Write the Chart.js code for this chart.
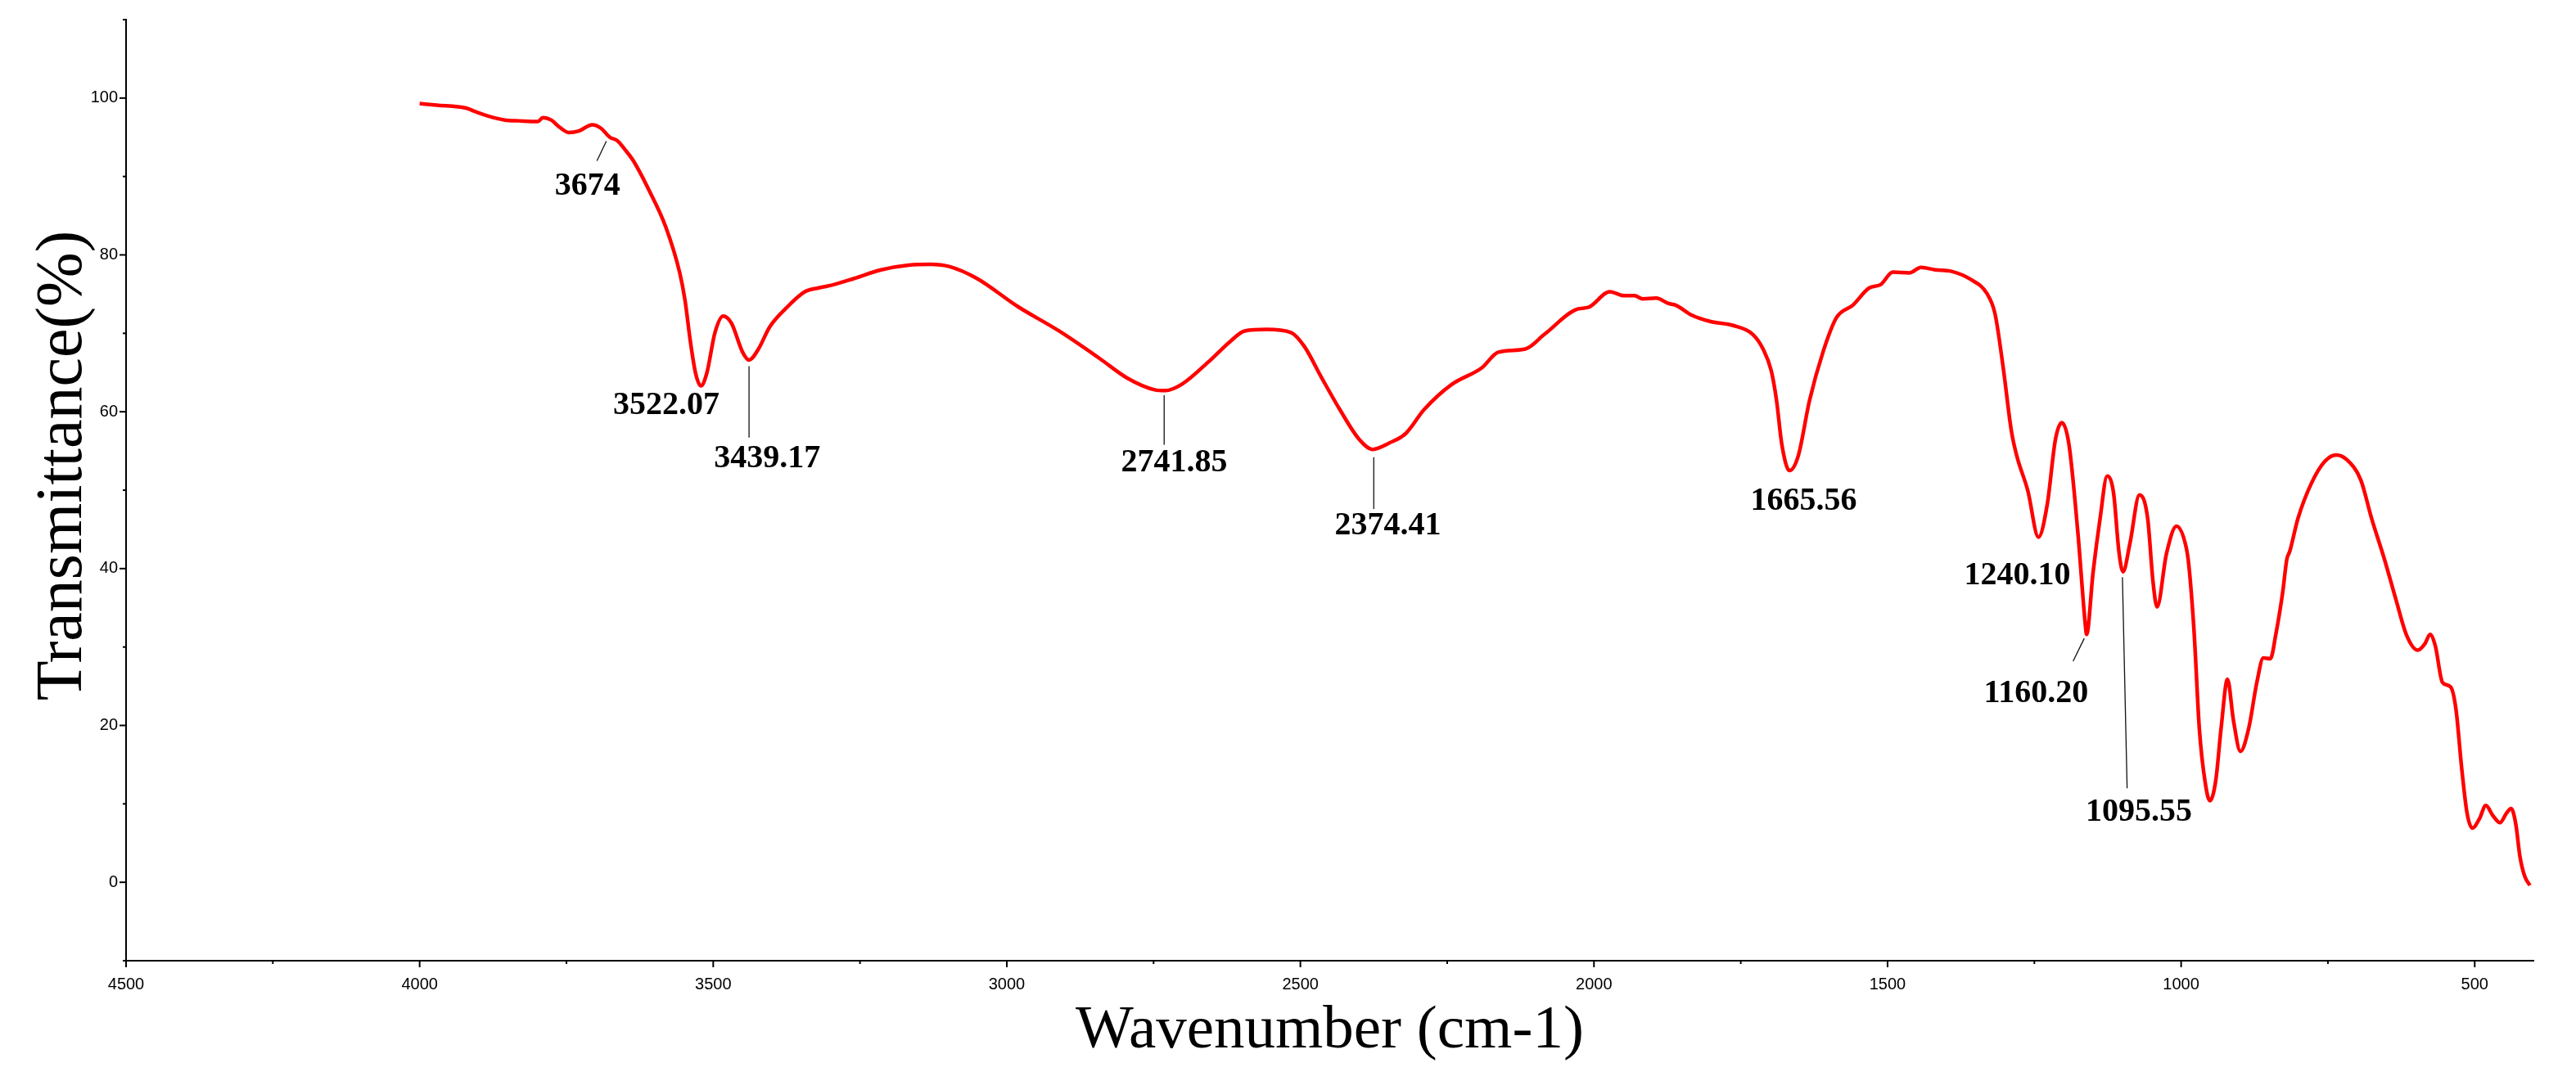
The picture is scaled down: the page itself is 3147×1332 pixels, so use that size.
<!DOCTYPE html>
<html>
<head>
<meta charset="utf-8">
<script src="https://cdn.jsdelivr.net/npm/chart.js@4.4.1/dist/chart.umd.min.js"></script>
<style>
  body { margin: 0; background: #fff; }
  canvas { display: block; }
</style>
</head>
<body>
<canvas id="myChart" width="3147" height="1332"></canvas>
<script>
// FTIR spectrum
const wavenumber = [
  4000, 3971, 3920, 3906, 3883, 3855, 3832, 3799, 3790, 3776, 3762, 3746, 3729, 3706, 3692, 3676,
  3664, 3650, 3636, 3609, 3581, 3557, 3548, 3539, 3530, 3521, 3511, 3497, 3483, 3469, 3450, 3439,
  3423, 3404, 3376, 3344, 3320, 3295, 3260, 3214, 3167, 3130, 3097, 3051, 2981, 2911, 2842, 2795,
  2748, 2730, 2702, 2656, 2619, 2595, 2558, 2516, 2493, 2465, 2433, 2400, 2377, 2349, 2321, 2289,
  2242, 2191, 2163, 2117, 2084, 2028, 2010, 1973, 1949, 1931, 1917, 1894, 1873, 1861, 1833, 1801,
  1763, 1730, 1712, 1698, 1689, 1680, 1667, 1652, 1633, 1610, 1587, 1559, 1531, 1512, 1491, 1463,
  1443, 1419, 1391, 1359, 1331, 1317, 1303, 1289, 1280, 1261, 1243, 1228, 1214, 1203, 1191, 1176,
  1163, 1161, 1150, 1138, 1126, 1115, 1106, 1099, 1087, 1071, 1057, 1048, 1041, 1025, 1008, 992,
  987, 978, 969, 959, 951, 941, 932, 921, 911, 899, 885, 871, 860, 848, 839, 827,
  820, 815, 801, 778, 755, 736, 718, 694, 676, 653, 634, 616, 597, 585, 576, 567,
  555, 541, 532, 522, 513, 504, 492, 481, 469, 457, 446, 438, 430, 423, 415, 406
];
const transmittance = [
  99.3, 99.1, 98.7, 98.3, 97.7, 97.2, 97.1, 97.0, 97.5, 97.2, 96.3, 95.6, 95.8, 96.6, 96.2, 95.0,
  94.6, 93.4, 92.0, 88.2, 83.6, 77.7, 74.2, 69.0, 64.9, 63.3, 64.9, 70.1, 72.2, 71.3, 67.6, 66.6,
  68.0, 70.8, 73.2, 75.3, 75.8, 76.2, 77.0, 78.1, 78.7, 78.8, 78.5, 77.0, 73.4, 70.3, 66.8, 64.3,
  62.8, 62.7, 63.5, 66.4, 69.0, 70.3, 70.5, 70.1, 68.3, 64.5, 60.3, 56.5, 55.2, 56.0, 57.2, 60.3,
  63.5, 65.6, 67.6, 68.0, 69.9, 73.1, 73.3, 75.3, 74.8, 74.8, 74.4, 74.5, 73.8, 73.6, 72.3, 71.5,
  71.0, 69.9, 68.0, 65.2, 61.4, 55.8, 52.5, 54.4, 61.4, 67.6, 72.0, 73.6, 75.8, 76.2, 77.8, 77.7,
  78.4, 78.1, 77.9, 76.9, 75.1, 72.5, 65.6, 57.5, 54.4, 49.9, 44.0, 48.2, 56.5, 58.6, 55.8, 44.7,
  32.7, 31.6, 39.5, 46.4, 51.8, 49.6, 42.2, 39.6, 43.3, 49.4, 46.4, 38.4, 35.1, 41.9, 45.4, 42.9,
  40.5, 32.0, 19.6, 12.7, 10.4, 13.0, 19.6, 25.9, 20.7, 16.7, 19.6, 25.5, 28.6, 28.5, 31.5, 37.0,
  41.2, 42.2, 46.4, 50.9, 53.7, 54.5, 53.9, 51.3, 46.5, 41.0, 36.0, 31.5, 29.6, 30.4, 31.6, 30.1,
  25.5, 24.9, 22.1, 14.4, 8.8, 6.9, 8.1, 9.8, 8.5, 7.6, 8.8, 9.4, 7.4, 3.3, 0.8, -0.4
];

const xTicks = [4500, 4250, 4000, 3750, 3500, 3250, 3000, 2750, 2500, 2250, 2000, 1750, 1500, 1250, 1000, 750, 500];
const yTicks = [-10, 0, 10, 20, 30, 40, 50, 60, 70, 80, 90, 100, 110];

// peak labels: text, where the label sits, and its leader line (all in data units)
const peakLabels = ['3674', '3522.07', '3439.17', '2741.85', '2374.41', '1665.56', '1240.10', '1160.20', '1095.55'];
const peakLabelAt = [[3714, 88.7], [3580, 60.8], [3408, 54.0], [2715, 53.5], [2351, 45.4], [1643, 48.6], [1279, 39.1], [1247, 24.1], [1072, 8.9]];
const peakLeaders = [
  [[3682, 94.5], [3698, 92.0]],
  null,
  [[3439, 65.8], [3439, 56.7]],
  [[2732, 62.1], [2732, 55.8]],
  [[2375, 54.2], [2375, 47.6]],
  null,
  null,
  [[1165, 31.1], [1184, 28.2]],
  [[1100, 38.9], [1092, 12.0]]
];

const points = wavenumber.map((w, i) => ({x: w, y: transmittance[i]}));

const extras = {
  id: 'extras',
  afterDraw(chart) {
    const c = chart.ctx;
    const xs = chart.scales.x, ys = chart.scales.y;
    c.save();
    // tick marks, outside, long on labelled values
    c.strokeStyle = '#000';
    c.lineWidth = 2;
    xTicks.forEach(v => {
      const px = xs.getPixelForValue(v);
      const len = v % 500 === 0 ? 8 : 4;
      c.beginPath();
      c.moveTo(px, xs.top);
      c.lineTo(px, xs.top + len);
      c.stroke();
    });
    yTicks.forEach(v => {
      const py = ys.getPixelForValue(v);
      const len = (v % 20 === 0 && v >= 0 && v <= 100) ? 8 : 4;
      c.beginPath();
      c.moveTo(ys.right, py);
      c.lineTo(ys.right - len, py);
      c.stroke();
    });
    // leader lines
    c.lineWidth = 1.3;
    c.strokeStyle = '#111';
    peakLeaders.forEach(l => {
      if (!l) return;
      c.beginPath();
      c.moveTo(xs.getPixelForValue(l[0][0]), ys.getPixelForValue(l[0][1]));
      c.lineTo(xs.getPixelForValue(l[1][0]), ys.getPixelForValue(l[1][1]));
      c.stroke();
    });
    // peak labels
    c.fillStyle = '#000';
    c.font = 'bold 40px "Liberation Serif", "Times New Roman", serif';
    c.textAlign = 'center';
    c.textBaseline = 'middle';
    peakLabels.forEach((t, i) => {
      c.fillText(t, xs.getPixelForValue(peakLabelAt[i][0]), ys.getPixelForValue(peakLabelAt[i][1]));
    });
    c.restore();
  }
};

const ctx = document.getElementById('myChart').getContext('2d');
const myChart = new Chart(ctx, {
  type: 'line',
  data: {
    datasets: [{
      data: points,
      borderColor: '#ff0000',
      borderWidth: 4.5,
      pointRadius: 0,
      cubicInterpolationMode: 'monotone',
      fill: false
    }]
  },
  options: {
    responsive: false,
    animation: false,
    devicePixelRatio: 1,
    layout: { padding: { top: 24, right: 52, left: 0, bottom: 0 } },
    plugins: { legend: { display: false }, tooltip: { enabled: false } },
    scales: {
      x: {
        type: 'linear',
        reverse: true,
        min: 400,
        max: 4500,
        afterBuildTicks: s => { s.ticks = xTicks.map(v => ({value: v})); },
        afterFit: s => { s.height = 158; },
        grid: { display: false, drawTicks: false },
        border: { display: true, color: '#000', width: 2 },
        ticks: {
          autoSkip: false,
          maxRotation: 0,
          padding: 17,
          color: '#000',
          font: { family: '"Liberation Sans", Arial, sans-serif', size: 20 },
          callback: v => (v % 500 === 0 ? String(v) : '')
        },
        title: {
          display: true,
          text: 'Wavenumber (cm-1)',
          color: '#000',
          font: { family: '"Liberation Serif", "Times New Roman", serif', size: 75, lineHeight: 1.2 },
          padding: { top: 0, bottom: 27 }
        }
      },
      y: {
        type: 'linear',
        min: -10,
        max: 110,
        afterBuildTicks: s => { s.ticks = yTicks.map(v => ({value: v})); },
        afterFit: s => { s.width = 154; },
        grid: { display: false, drawTicks: false },
        border: { display: true, color: '#000', width: 2 },
        ticks: {
          autoSkip: false,
          padding: 10,
          color: '#000',
          font: { family: '"Liberation Sans", Arial, sans-serif', size: 20 },
          callback: v => ((v % 20 === 0 && v >= 0 && v <= 100) ? String(v) : '')
        },
        title: {
          display: true,
          // leading spaces lift the title a little above the axis middle, as in the original
          text: '\u00a0\u00a0\u00a0Transmittance(%)',
          color: '#000',
          font: { family: '"Liberation Serif", "Times New Roman", serif', size: 80, lineHeight: 1.2 },
          padding: { top: 30, bottom: 0 }
        }
      }
    }
  },
  plugins: [extras]
});
</script>
</body>
</html>
